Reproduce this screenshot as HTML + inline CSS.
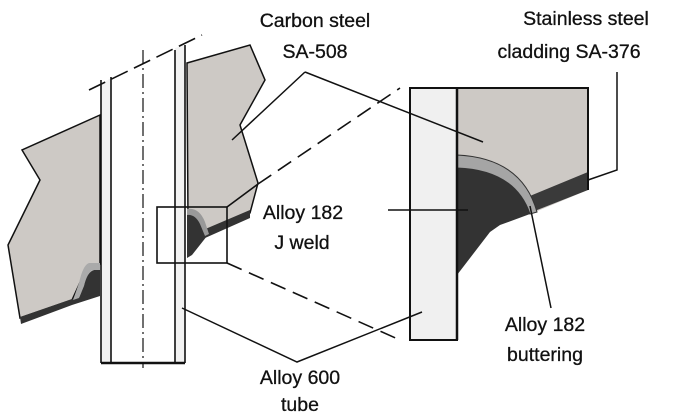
<!DOCTYPE html>
<html><head><style>body{margin:0;background:#fff}svg{display:block}text{font-family:"Liberation Sans",sans-serif;font-size:19.5px;fill:#111;text-anchor:middle;stroke:#111;stroke-width:0.3}</style></head><body>
<svg width="700" height="418" viewBox="0 0 700 418" xmlns="http://www.w3.org/2000/svg">
<polygon points="187,63 250,45 265,80 240,125 258,183 250,213 205,232 188,220" fill="#cdc9c5" stroke="#111" stroke-width="1.5"/>
<polygon points="203,230 250,210 250,218 205,238" fill="#333"/>
<path d="M187,213 Q197,211 202,222 L207,236 L192,255 L187,258Z" fill="#333"/>
<path d="M187,209 Q199,207 205,222 L209,234 L205,236 L200,224 Q195,214 187,215Z" fill="#999"/>
<polygon points="100,115 22,150 40,180 8,245 20,318 72,300 88,265 100,264" fill="#cdc9c5" stroke="#111" stroke-width="1.5"/>
<polygon points="20,317 72,299 100,290 100,296 72,305 21,324" fill="#333"/>
<path d="M100,270 L94,270 Q87,272 84,285 L79,298 L100,291Z" fill="#333"/>
<path d="M89,263 L100,263 L100,270 L93,270 Q87,273 84,286 L79,298 L73,300 L79,283 Q83,265 89,263Z" fill="#aaa"/>
<rect x="101" y="45" width="84" height="318" fill="#fff"/>
<polygon points="101,80 111,77 111,363 101,363" fill="#f2f2f2"/>
<polygon points="175,48 185,45 185,363 175,363" fill="#f2f2f2"/>
<polygon points="80,95 200,30 200,0 80,0" fill="#fff"/>
<g stroke="#111" stroke-width="1.6" fill="none">
<line x1="101" y1="80" x2="101" y2="363"/><line x1="111" y1="77" x2="111" y2="363"/>
<line x1="175" y1="50" x2="175" y2="363"/><line x1="185" y1="45" x2="185" y2="363"/>
<line x1="101" y1="363" x2="185" y2="363" stroke-width="2.5"/>
<line x1="89" y1="90" x2="202" y2="35" stroke-dasharray="18,7"/>
<line x1="143" y1="50" x2="143" y2="368" stroke-width="1.2" stroke-dasharray="14,4,2,4"/>
<rect x="157" y="207" width="70" height="56"/>
<line x1="227" y1="207" x2="258" y2="184"/>
<line x1="258" y1="184" x2="400" y2="88" stroke-dasharray="16,8"/>
<line x1="227" y1="263" x2="400" y2="340" stroke-dasharray="16,8"/>
</g>
<rect x="410" y="88" width="47" height="252" fill="#f0f0f0" stroke="#111" stroke-width="2"/>
<path d="M457,155 Q520,160 535,212 L588,190 L588,88 L457,88Z" fill="#cdc9c5"/>
<polygon points="532,212 588,190 588,172 525,198" fill="#3a3a3a"/>
<path d="M457,168 Q515,170 530,214 L500,225 L490,232 L457,275Z" fill="#333"/>
<path d="M457,155 Q522,158 537,212 L530,214 Q515,170 457,168Z" fill="#a5a5a5" stroke="#333" stroke-width="1"/>
<path d="M457,88 L588,88 L588,190" fill="none" stroke="#111" stroke-width="2"/>
<line x1="457" y1="88" x2="457" y2="340" stroke="#111" stroke-width="2.5"/>
<g stroke="#111" stroke-width="1.5" fill="none">
<polyline points="232,140 305,72"/>
<polyline points="305,72 483,142"/>
<polyline points="617,72 617,170 588,180"/>
<line x1="388" y1="210" x2="468" y2="210"/>
<polyline points="182,308 297,362 422,312"/>
<line x1="530" y1="206" x2="551" y2="308"/>
</g>
<text x="315" y="27">Carbon steel</text>
<text x="315" y="58">SA-508</text>
<text x="586" y="25">Stainless steel</text>
<text x="569" y="58">cladding SA-376</text>
<text x="303" y="219">Alloy 182</text>
<text x="302" y="249">J weld</text>
<text x="545" y="331">Alloy 182</text>
<text x="545" y="361">buttering</text>
<text x="300" y="384">Alloy 600</text>
<text x="300" y="411">tube</text>
</svg>
</body></html>
